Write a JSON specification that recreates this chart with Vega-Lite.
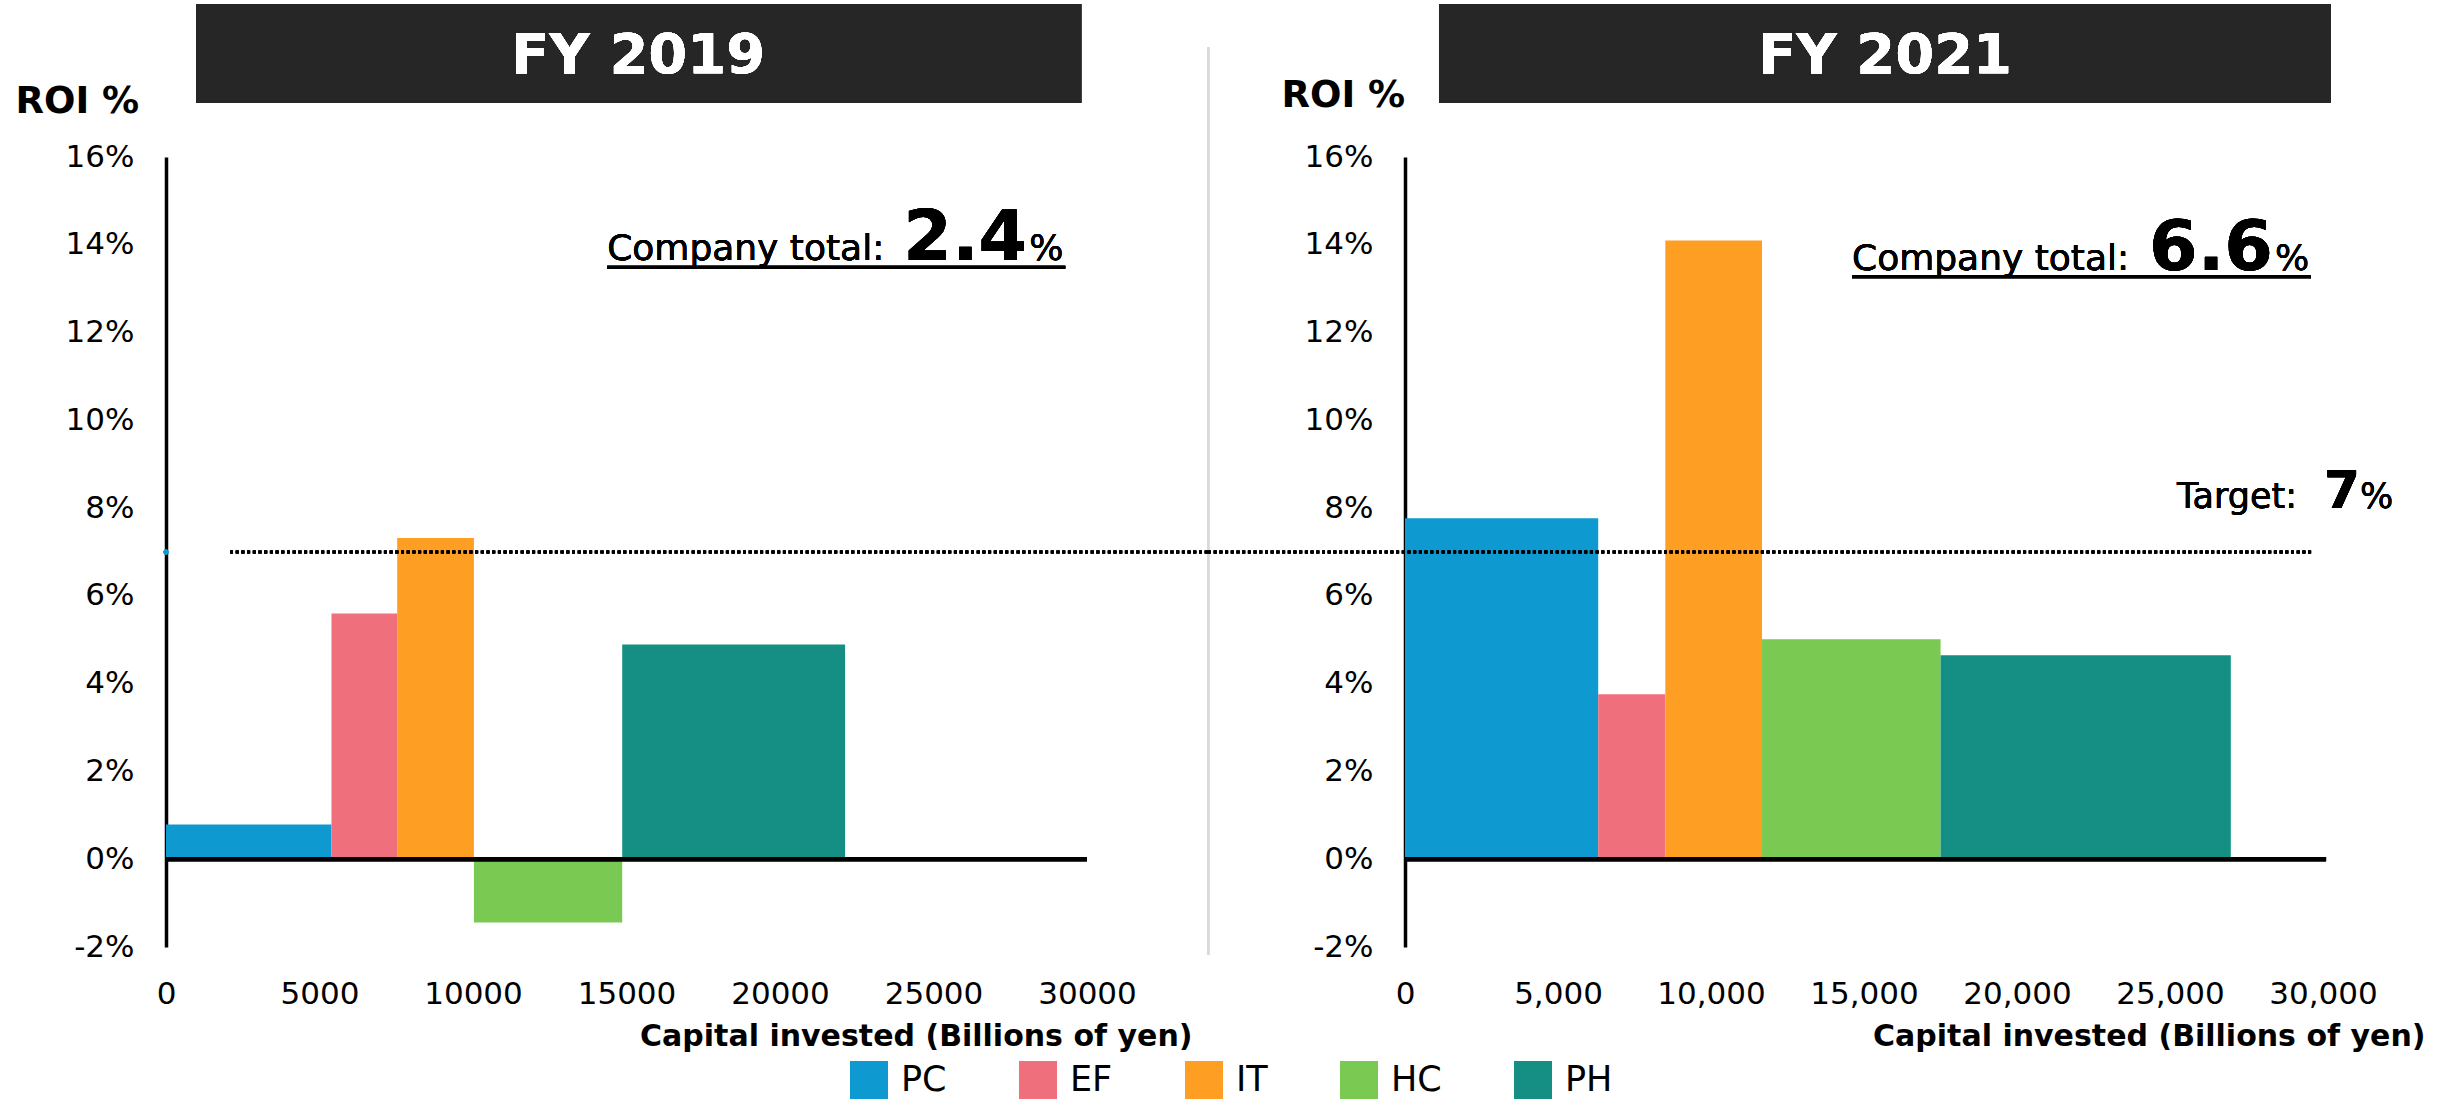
{
  "$schema": "https://vega.github.io/schema/vega-lite/v6.json",
  "background": "white",
  "padding": {"left": 15, "top": 4, "right": 0, "bottom": 0},
  "config": {
    "font": "DejaVu Sans",
    "view": {"stroke": null},
    "axis": {"labelColor": "#000000", "titleColor": "#000000", "grid": false, "ticks": false}
  },
  "datasets": {
    "fy2019": [
      {"segment": "PC", "start": 0, "end": 5390, "roi": 0.79},
      {"segment": "EF", "start": 5390, "end": 7530, "roi": 5.6},
      {"segment": "IT", "start": 7530, "end": 10030, "roi": 7.32},
      {"segment": "HC", "start": 10030, "end": 14860, "roi": -1.44},
      {"segment": "PH", "start": 14860, "end": 22120, "roi": 4.89}
    ],
    "fy2021": [
      {"segment": "PC", "start": 0, "end": 6314, "roi": 7.77},
      {"segment": "EF", "start": 6314, "end": 8507, "roi": 3.76},
      {"segment": "IT", "start": 8507, "end": 11667, "roi": 14.1},
      {"segment": "HC", "start": 11667, "end": 17503, "roi": 5.01},
      {"segment": "PH", "start": 17503, "end": 26987, "roi": 4.65}
    ]
  },
  "bounds": "flush",
  "spacing": 318,
  "hconcat": [
    {
      "width": 921,
      "height": 790,
      "data": {"name": "fy2019"},
      "layer": [
        {
          "mark": {"type": "rect", "color": "#262626"},
          "encoding": {
            "x": {"datum": 980, "type": "quantitative"},
            "x2": {"datum": 29815},
            "y": {"datum": 19.485, "type": "quantitative"},
            "y2": {"datum": 17.23}
          }
        },
        {
          "mark": {"type": "text", "text": "FY 2019", "color": "white", "fontSize": 56, "fontWeight": "bold", "align": "center", "baseline": "alphabetic"},
          "encoding": {
            "x": {"datum": 15380, "type": "quantitative"},
            "y": {"datum": 17.91, "type": "quantitative"}
          }
        },
        {
          "mark": {"type": "rule", "color": "#d9d9d9", "strokeWidth": 2},
          "encoding": {
            "x": {"datum": 33952, "type": "quantitative"},
            "y": {"datum": 18.5, "type": "quantitative"},
            "y2": {"datum": -2.18}
          }
        },
        {
          "mark": {"type": "rect"},
          "encoding": {
            "x": {
              "field": "start", "type": "quantitative",
              "scale": {"domain": [0, 30000], "nice": false, "zero": false},
              "axis": {
                "values": [0, 5000, 10000, 15000, 20000, 25000, 30000],
                "format": "d",
                "domain": false,
                "labelFontSize": 31,
                "labelPadding": 32,
                "labelFlush": false,
                "title": "Capital invested (Billions of yen)",
                "titleFontSize": 30,
                "titleFontWeight": "bold",
                "titleAlign": "right",
                "titleBaseline": "alphabetic",
                "titleX": 1026,
                "titleY": 98
              }
            },
            "x2": {"field": "end"},
            "y": {
              "field": "roi", "type": "quantitative",
              "scale": {"domain": [-2, 16], "nice": false, "zero": false},
              "axis": {
                "values": [-2, 0, 2, 4, 6, 8, 10, 12, 14, 16],
                "labelExpr": "datum.value + '%'",
                "domain": true,
                "domainColor": "#000000",
                "domainWidth": 3.5,
                "labelFontSize": 31,
                "labelPadding": 32,
                "labelFlush": false,
                "title": "ROI %",
                "titleFontSize": 37,
                "titleFontWeight": "bold",
                "titleAngle": 0,
                "titleAlign": "left",
                "titleBaseline": "alphabetic",
                "titleX": -151,
                "titleY": -45
              }
            },
            "y2": {"datum": 0},
            "color": {
              "field": "segment", "type": "nominal",
              "scale": {"domain": ["PC", "EF", "IT", "HC", "PH"], "range": ["#0f99d1", "#f06f7c", "#fe9f23", "#7ac952", "#158f83"]},
              "legend": {
                "title": null, "orient": "none", "legendX": 684, "legendY": 904,
                "direction": "horizontal", "columns": 5,
                "symbolType": "square", "symbolSize": 1444, "symbolStrokeWidth": 0, "symbolOpacity": 1,
                "labelFontSize": 35, "labelOffset": 13, "columnPadding": 72, "labelColor": "#000000", "padding": 0
              }
            }
          }
        },
        {
          "mark": {"type": "rule", "color": "#000000", "strokeWidth": 4},
          "encoding": {
            "x": {"datum": 0, "type": "quantitative"},
            "x2": {"datum": 30000},
            "y": {"datum": 0, "type": "quantitative"}
          }
        },
        {
          "mark": {"type": "rule", "color": "#000000", "strokeWidth": 3, "strokeDash": [3, 2.7]},
          "encoding": {
            "x": {"datum": 2085, "type": "quantitative"},
            "x2": {"datum": 33952},
            "y": {"datum": 7, "type": "quantitative"}
          }
        },
        {
          "mark": {"type": "point", "filled": true, "color": "#0f99d1", "size": 25, "opacity": 1},
          "encoding": {
            "x": {"datum": 0, "type": "quantitative"},
            "y": {"datum": 7, "type": "quantitative"}
          }
        },
        {
          "mark": {"type": "text", "text": "Company total:", "color": "#000000", "fontSize": 36, "align": "left", "baseline": "alphabetic"},
          "encoding": {
            "x": {"datum": 14370, "type": "quantitative"},
            "y": {"datum": 13.65, "type": "quantitative"}
          }
        },
        {
          "mark": {"type": "text", "text": "2.4", "color": "#000000", "fontSize": 70, "fontWeight": "bold", "align": "left", "baseline": "alphabetic"},
          "encoding": {
            "x": {"datum": 24015, "type": "quantitative"},
            "y": {"datum": 13.65, "type": "quantitative"}
          }
        },
        {
          "mark": {"type": "text", "text": "%", "color": "#000000", "fontSize": 36, "align": "left", "baseline": "alphabetic"},
          "encoding": {
            "x": {"datum": 28120, "type": "quantitative"},
            "y": {"datum": 13.65, "type": "quantitative"}
          }
        },
        {
          "mark": {"type": "rule", "color": "#000000", "strokeWidth": 3},
          "encoding": {
            "x": {"datum": 14370, "type": "quantitative"},
            "x2": {"datum": 29293},
            "y": {"datum": 13.49, "type": "quantitative"}
          }
        }
      ]
    },
    {
      "width": 918,
      "height": 790,
      "data": {"name": "fy2021"},
      "layer": [
        {
          "mark": {"type": "rect", "color": "#262626"},
          "encoding": {
            "x": {"datum": 1111, "type": "quantitative"},
            "x2": {"datum": 30261},
            "y": {"datum": 19.485, "type": "quantitative"},
            "y2": {"datum": 17.23}
          }
        },
        {
          "mark": {"type": "text", "text": "FY 2021", "color": "white", "fontSize": 56, "fontWeight": "bold", "align": "center", "baseline": "alphabetic"},
          "encoding": {
            "x": {"datum": 15686, "type": "quantitative"},
            "y": {"datum": 17.91, "type": "quantitative"}
          }
        },
        {
          "mark": {"type": "rect"},
          "encoding": {
            "x": {
              "field": "start", "type": "quantitative",
              "scale": {"domain": [0, 30000], "nice": false, "zero": false},
              "axis": {
                "values": [0, 5000, 10000, 15000, 20000, 25000, 30000],
                "format": ",d",
                "domain": false,
                "labelFontSize": 31,
                "labelPadding": 32,
                "labelFlush": false,
                "title": "Capital invested (Billions of yen)",
                "titleFontSize": 30,
                "titleFontWeight": "bold",
                "titleAlign": "right",
                "titleBaseline": "alphabetic",
                "titleX": 1020,
                "titleY": 98
              }
            },
            "x2": {"field": "end"},
            "y": {
              "field": "roi", "type": "quantitative",
              "scale": {"domain": [-2, 16], "nice": false, "zero": false},
              "axis": {
                "values": [-2, 0, 2, 4, 6, 8, 10, 12, 14, 16],
                "labelExpr": "datum.value + '%'",
                "domain": true,
                "domainColor": "#000000",
                "domainWidth": 3.5,
                "labelFontSize": 31,
                "labelPadding": 32,
                "labelFlush": false,
                "title": "ROI %",
                "titleFontSize": 37,
                "titleFontWeight": "bold",
                "titleAngle": 0,
                "titleAlign": "left",
                "titleBaseline": "alphabetic",
                "titleX": -124,
                "titleY": -51
              }
            },
            "y2": {"datum": 0},
            "color": {
              "field": "segment", "type": "nominal",
              "scale": {"domain": ["PC", "EF", "IT", "HC", "PH"], "range": ["#0f99d1", "#f06f7c", "#fe9f23", "#7ac952", "#158f83"]},
              "legend": {
                "title": null, "orient": "none", "legendX": 684, "legendY": 904,
                "direction": "horizontal", "columns": 5,
                "symbolType": "square", "symbolSize": 1444, "symbolStrokeWidth": 0, "symbolOpacity": 1,
                "labelFontSize": 35, "labelOffset": 13, "columnPadding": 72, "labelColor": "#000000", "padding": 0
              }
            }
          }
        },
        {
          "mark": {"type": "rule", "color": "#000000", "strokeWidth": 4},
          "encoding": {
            "x": {"datum": 0, "type": "quantitative"},
            "x2": {"datum": 30100},
            "y": {"datum": 0, "type": "quantitative"}
          }
        },
        {
          "mark": {"type": "rule", "color": "#000000", "strokeWidth": 3, "strokeDash": [3, 2.7]},
          "encoding": {
            "x": {"datum": -6438, "type": "quantitative"},
            "x2": {"datum": 29673},
            "y": {"datum": 7, "type": "quantitative"}
          }
        },
        {
          "mark": {"type": "text", "text": "Company total:", "color": "#000000", "fontSize": 36, "align": "left", "baseline": "alphabetic"},
          "encoding": {
            "x": {"datum": 14608, "type": "quantitative"},
            "y": {"datum": 13.43, "type": "quantitative"}
          }
        },
        {
          "mark": {"type": "text", "text": "6.6", "color": "#000000", "fontSize": 70, "fontWeight": "bold", "align": "left", "baseline": "alphabetic"},
          "encoding": {
            "x": {"datum": 24314, "type": "quantitative"},
            "y": {"datum": 13.43, "type": "quantitative"}
          }
        },
        {
          "mark": {"type": "text", "text": "%", "color": "#000000", "fontSize": 36, "align": "left", "baseline": "alphabetic"},
          "encoding": {
            "x": {"datum": 28431, "type": "quantitative"},
            "y": {"datum": 13.43, "type": "quantitative"}
          }
        },
        {
          "mark": {"type": "rule", "color": "#000000", "strokeWidth": 3},
          "encoding": {
            "x": {"datum": 14608, "type": "quantitative"},
            "x2": {"datum": 29608},
            "y": {"datum": 13.27, "type": "quantitative"}
          }
        },
        {
          "mark": {"type": "text", "text": "Target:", "color": "#000000", "fontSize": 35, "align": "left", "baseline": "alphabetic"},
          "encoding": {
            "x": {"datum": 25229, "type": "quantitative"},
            "y": {"datum": 8.0, "type": "quantitative"}
          }
        },
        {
          "mark": {"type": "text", "text": "7", "color": "#000000", "fontSize": 52, "fontWeight": "bold", "align": "left", "baseline": "alphabetic"},
          "encoding": {
            "x": {"datum": 30033, "type": "quantitative"},
            "y": {"datum": 8.0, "type": "quantitative"}
          }
        },
        {
          "mark": {"type": "text", "text": "%", "color": "#000000", "fontSize": 35, "align": "left", "baseline": "alphabetic"},
          "encoding": {
            "x": {"datum": 31209, "type": "quantitative"},
            "y": {"datum": 8.0, "type": "quantitative"}
          }
        }
      ]
    }
  ]
}
